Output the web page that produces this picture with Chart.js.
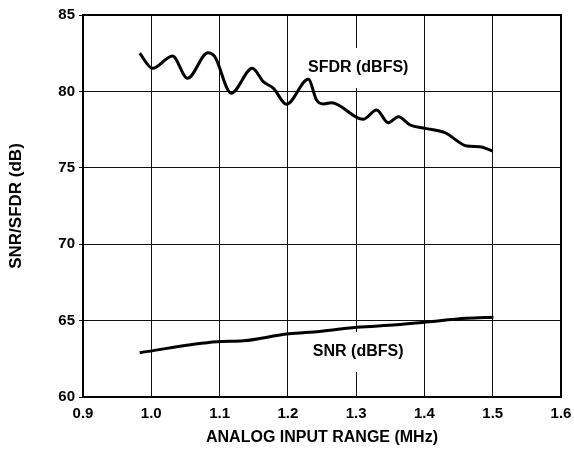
<!DOCTYPE html>
<html><head><meta charset="utf-8">
<script src="https://cdn.jsdelivr.net/npm/chart.js@4/dist/chart.umd.min.js"></script>
<style>html,body{margin:0;padding:0;background:#fff}#wrap{width:574px;height:451px}</style>
</head><body><div id="wrap"><canvas id="c" width="574" height="451"></canvas></div>
<script>
// Data
const sfdrX = [0.983,1.002,1.031,1.053,1.083,1.093,1.117,1.148,1.164,1.179,1.198,1.230,1.242,1.252,1.264,1.310,1.330,1.347,1.362,1.379,1.401,1.430,1.462,1.481,1.500];
const sfdrY = [82.49,81.51,82.32,80.86,82.53,82.27,79.88,81.51,80.64,80.20,79.16,80.79,79.44,79.18,79.26,78.17,78.78,77.95,78.34,77.80,77.58,77.30,76.43,76.38,76.10];
const snrX = [0.983,1.096,1.135,1.198,1.232,1.301,1.359,1.403,1.462,1.501];
const snrY = [62.90,63.62,63.68,64.12,64.23,64.56,64.73,64.91,65.15,65.22];
const xTicks = [0.9,1.0,1.1,1.2,1.3,1.4,1.5,1.6];
const yTicks = [60,65,70,75,80,85];
const curveNames = ['SFDR (dBFS)','SNR (dBFS)'];
const curveLabelX = [1.303,1.303];
const curveLabelY = [81.53,62.94];

const FONT = '"Liberation Sans", Arial, Helvetica, sans-serif';
Chart.defaults.font.family = FONT;
Chart.defaults.font.weight = 'bold';
Chart.defaults.color = '#000';

const toPts = (xs, ys) => xs.map((v,i)=>({x:v,y:ys[i]}));

const framePlugin = {
  id:'frameAndLabels',
  beforeDatasetsDraw(chart){
    const {ctx, scales:{x,y}, chartArea:a} = chart;
    ctx.save();
    ctx.font = 'bold 16px ' + FONT;
    ctx.textAlign='center'; ctx.textBaseline='middle';
    curveNames.forEach((t,i)=>{
      const px=x.getPixelForValue(curveLabelX[i]), py=y.getPixelForValue(curveLabelY[i]);
      const w=ctx.measureText(t).width;
      ctx.fillStyle='#fff'; ctx.fillRect(px-w/2-6, py-20, w+12, 40);
      ctx.fillStyle='#000'; ctx.fillText(t, px, py);
    });
    ctx.lineWidth=2; ctx.strokeStyle='#000';
    ctx.strokeRect(a.left, a.top, a.right-a.left, a.bottom-a.top);
    ctx.restore();
  }
};

new Chart(document.getElementById('c'), {
  type:'line',
  data:{datasets:[
    {label:curveNames[0], data:toPts(sfdrX,sfdrY), borderColor:'#000', borderWidth:3, pointRadius:0, cubicInterpolationMode:'monotone', fill:false},
    {label:curveNames[1], data:toPts(snrX,snrY), borderColor:'#000', borderWidth:3, pointRadius:0, cubicInterpolationMode:'monotone', fill:false}
  ]},
  options:{
    responsive:false, animation:false,
    layout:{padding:{top:15,right:13,left:0,bottom:0}},
    plugins:{legend:{display:false}, tooltip:{enabled:false}},
    scales:{
      x:{type:'linear', min:0.9, max:1.6,
        afterBuildTicks:s=>{s.ticks = xTicks.map(v=>({value:v}));},
        ticks:{callback:v=>Number(v).toFixed(1), font:{size:15,weight:'bold'}, color:'#000', padding:8, maxRotation:0},
        grid:{color:'#111', lineWidth:1, drawTicks:false},
        border:{display:false},
        title:{display:true, text:'ANALOG INPUT RANGE (MHz)', font:{size:16,weight:'bold'}, color:'#000', padding:{top:0,bottom:4}},
        afterFit:s=>{s.height=54; s.paddingLeft=0; s.paddingRight=0;}
      },
      y:{type:'linear', min:60, max:85,
        afterBuildTicks:s=>{s.ticks = yTicks.map(v=>({value:v}));},
        ticks:{font:{size:15,weight:'bold'}, color:'#000', padding:4},
        grid:{color:'#111', lineWidth:1, tickLength:4},
        border:{display:false},
        title:{display:true, text:'SNR/SFDR (dB)', font:{size:17,weight:'bold'}, color:'#000', padding:{top:6,bottom:0}},
        afterFit:s=>{s.width=83; s.paddingTop=0; s.paddingBottom=0;}
      }
    }
  },
  plugins:[framePlugin]
});
</script></body></html>
